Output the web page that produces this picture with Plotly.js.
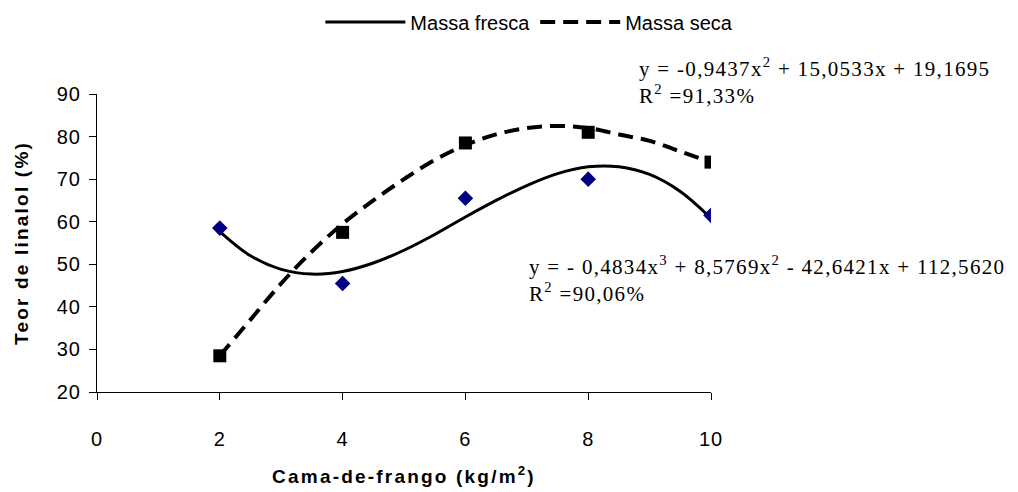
<!DOCTYPE html>
<html>
<head>
<meta charset="utf-8">
<script src="https://cdn.plot.ly/plotly-3.0.1.min.js"></script>
<style>
body{margin:0;padding:0;background:#fff;}
#chart{width:1018px;height:492px;}
#chart .xtitle, #chart .ytitle{letter-spacing:2.2px;}
#chart .annotation-text{letter-spacing:1.3px;}
#chart .xtick text, #chart .ytick text{letter-spacing:1px;}
</style>
</head>
<body>
<div id="chart"></div>
<script>
// Observed data
const doses = [2, 4, 6, 8, 10];
const massaFresca = [58.5, 45.5, 65.5, 70, 61.5];
const massaSeca = [28.5, 57.5, 78.5, 81, 74];

// Trend curves
const curveX = [2, 2.5, 3, 3.5, 4, 4.5, 5, 5.5, 6, 6.5, 7, 7.5, 8, 8.5, 9, 9.5, 10];
const curveFresca = [57.7, 52.0, 48.8, 47.7, 48.3, 50.3, 53.3, 57.0, 61.1, 65.0, 68.5, 71.3, 72.9, 72.9, 71.1, 67.1, 60.8];
const curveSeca = [28.5, 37, 45.5, 53, 59.5, 65, 70, 74.5, 78, 80.5, 82, 82.5, 82, 80.5, 79, 76.5, 74];

const xTicks = [0, 2, 4, 6, 8, 10];
const yTicks = [20, 30, 40, 50, 60, 70, 80, 90];

const traces = [
  {x: curveX, y: curveFresca, mode: 'lines', name: 'Massa fresca',
   line: {color: '#000', width: 3, shape: 'spline'}},
  {x: curveX, y: curveSeca, mode: 'lines', name: 'Massa seca',
   line: {color: '#000', width: 4, shape: 'spline', dash: '15px,8px'}},
  {x: doses, y: massaFresca, mode: 'markers', showlegend: false,
   marker: {symbol: 'diamond', color: '#000080', size: 12}},
  {x: doses, y: massaSeca, mode: 'markers', showlegend: false,
   marker: {symbol: 'square', color: '#000', size: 13}}
];

const serif = 'Liberation Serif, Times New Roman, serif';
const layout = {
  width: 1018, height: 492,
  margin: {l: 97, r: 307, t: 94, b: 100, autoexpand: false},
  paper_bgcolor: '#fff', plot_bgcolor: '#fff',
  font: {family: 'Liberation Sans, Arial, sans-serif', size: 20, color: '#000'},
  showlegend: true,
  legend: {orientation: 'h', x: 0.52, xanchor: 'center', xref: 'container', y: 0.995, yanchor: 'top', yref: 'container',
    itemwidth: 80, font: {size: 20}, traceorder: 'normal', bgcolor: 'rgba(0,0,0,0)'},
  xaxis: {range: [0, 10], tickvals: xTicks, ticktext: xTicks.map(String),
    showgrid: false, zeroline: false, showline: true, linecolor: '#000', linewidth: 1,
    ticks: 'outside', ticklen: 7, tickcolor: '#000', tickfont: {size: 20}, ticklabelstandoff: 22,
    title: {text: '<b>Cama-de-frango (kg/m<sup>2</sup>)</b>', font: {size: 19}, standoff: 20}},
  yaxis: {range: [20, 90], tickvals: yTicks, ticktext: yTicks.map(String),
    showgrid: false, zeroline: false, showline: true, linecolor: '#000', linewidth: 1,
    ticks: 'outside', ticklen: 7, tickcolor: '#000', tickfont: {size: 20}, ticklabelstandoff: 4,
    title: {text: '<b>Teor de linalol (%)</b>', font: {size: 19}, standoff: 25}},
  annotations: [
    {xref: 'paper', yref: 'paper', x: 0.879, y: 1.141, xanchor: 'left', yanchor: 'top', align: 'left',
     showarrow: false, font: {family: serif, size: 21},
     text: 'y = -0,9437x<sup>2</sup> + 15,0533x + 19,1695<br>R<sup>2</sup> =91,33%'},
    {xref: 'paper', yref: 'paper', x: 0.70, y: 0.475, xanchor: 'left', yanchor: 'top', align: 'left',
     showarrow: false, font: {family: serif, size: 21},
     text: 'y = - 0,4834x<sup>3</sup> + 8,5769x<sup>2</sup> - 42,6421x + 112,5620<br>R<sup>2</sup> =90,06%'}
  ]
};

Plotly.newPlot('chart', traces, layout, {displayModeBar: false, staticPlot: true});
</script>
</body>
</html>
